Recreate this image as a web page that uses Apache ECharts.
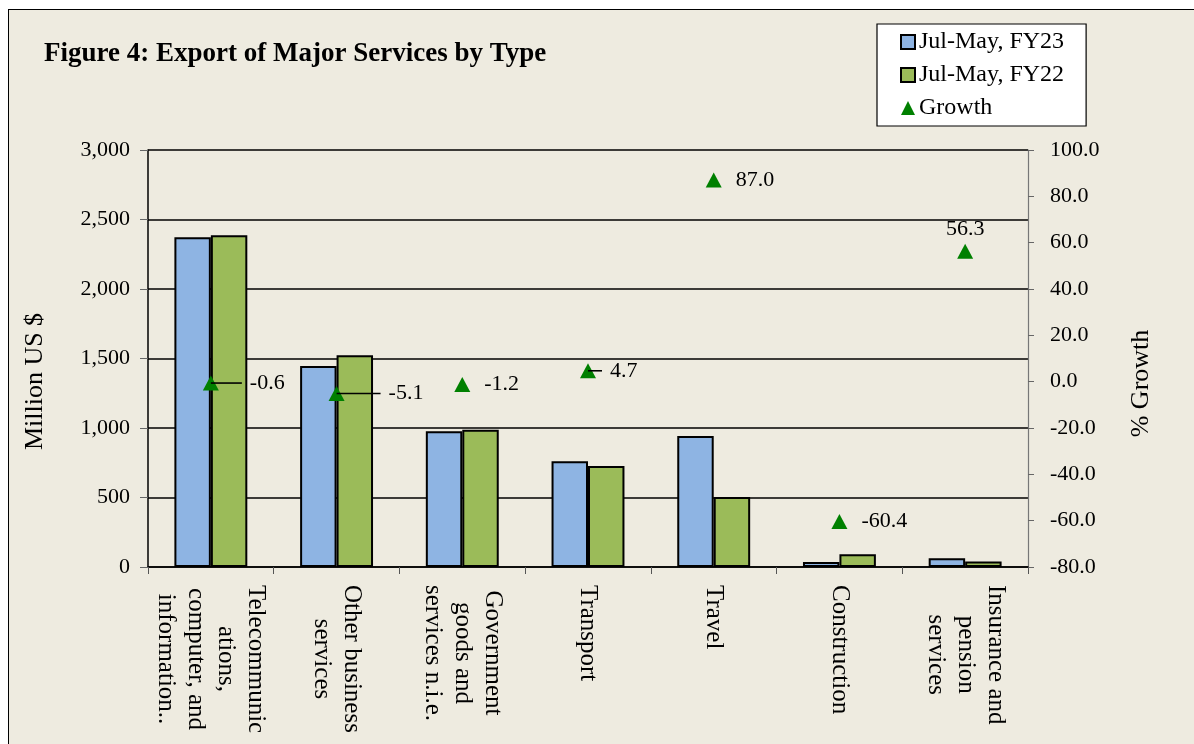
<!DOCTYPE html>
<html>
<head>
<meta charset="utf-8">
<script src="https://cdn.jsdelivr.net/npm/echarts@6/dist/echarts.min.js"></script>
<style>
  html, body { margin: 0; padding: 0; background: #fff; }
  #frame {
    position: absolute; left: 8px; top: 9px; width: 1200px; height: 760px;
    background: #EEEBE0; border-top: 1.5px solid #000; border-left: 1.5px solid #000;
  }
  #chart { position: absolute; left: 0; top: 0; width: 1194px; height: 744px; }
</style>
</head>
<body>
<div id="frame"></div>
<div id="chart"></div>
<script>
// Data
const categories = [
    'Telecommunic\nations,\ncomputer, and\ninformation..',
    'Other business\nservices',
    'Government\ngoods and\nservices n.i.e.',
    'Transport',
    'Travel',
    'Construction',
    'Insurance and\npension\nservices'
];
const fy23 = [2372, 1446, 976, 760, 942, 36, 63];
const fy22 = [2386, 1523, 988, 726, 504, 91, 40];
const growth = [-0.6, -5.1, -1.2, 4.7, 87.0, -60.4, 56.3];

const serif = '"Liberation Serif", "Times New Roman", serif';

const chart = echarts.init(document.getElementById('chart'));

// leader line lengths (px) for the labels that were dragged away from their marker
const leaderLen = { 0: 31, 1: 44, 3: 14 };

function growthLabel(v, i) {
    if (i === 6) return { position: 'top', distance: 4 };
    if (leaderLen[i]) {
        return {
            position: 'right',
            distance: -8,
            formatter: '{ln|}{t|' + v.toFixed(1) + '}',
            rich: {
                ln: { width: leaderLen[i], height: 1.6, backgroundColor: '#000', verticalAlign: 'middle' },
                t: { fontFamily: serif, fontSize: 22, color: '#000', padding: [0, 0, 0, 8], verticalAlign: 'middle' }
            }
        };
    }
    return {};
}

const option = {
    backgroundColor: 'transparent',
    animation: false,
    title: {
        text: 'Figure 4: Export of Major Services by Type',
        left: 39,
        top: 36,
        textStyle: { fontFamily: serif, fontSize: 27, fontWeight: 'bold', color: '#000' }
    },
    legend: {
        orient: 'vertical',
        left: 877,
        top: 24,
        padding: [6, 22, 6, 23],
        itemGap: 9,
        itemWidth: 14,
        itemHeight: 14,
        backgroundColor: '#fff',
        borderColor: '#000',
        borderWidth: 1.2,
        borderRadius: 0,
        textStyle: { fontFamily: serif, fontSize: 24, color: '#000', padding: [0, 0, 0, -1] },
        data: [
            { name: 'Jul-May, FY23', icon: 'rect' },
            { name: 'Jul-May, FY22', icon: 'rect' },
            { name: 'Growth', icon: 'triangle', itemStyle: { borderWidth: 0, opacity: 1 } }
        ]
    },
    grid: { left: 148, right: 166, top: 150, bottom: 177 },
    xAxis: {
        type: 'category',
        data: categories,
        axisLine: { lineStyle: { color: '#000', width: 1.5 } },
        axisTick: { show: true, length: 7, lineStyle: { color: '#555' } },
        axisLabel: {
            interval: 0,
            rotate: -90,
            margin: 18,
            fontFamily: serif,
            fontSize: 25,
            color: '#000',
            lineHeight: 30,
            formatter: (v) => v.split('\n').map(l => '{c|' + l + '}').join('\n'),
            rich: { c: { align: 'center', fontFamily: serif, fontSize: 25, color: '#000', lineHeight: 30 } }
        }
    },
    yAxis: [
        {
            type: 'value',
            min: 0,
            max: 3000,
            interval: 500,
            name: 'Million US $',
            nameLocation: 'middle',
            nameGap: 100,
            nameRotate: 90,
            nameTextStyle: { fontFamily: serif, fontSize: 26, color: '#000', padding: [0, 46, 0, 0] },
            axisLine: { show: true, lineStyle: { color: '#000', width: 1.5 } },
            axisTick: { show: true, length: 8, lineStyle: { color: '#666' } },
            axisLabel: {
                margin: 18,
                fontFamily: serif,
                fontSize: 22,
                color: '#000',
                formatter: (v) => v.toLocaleString('en-US')
            },
            splitLine: { lineStyle: { color: '#000', width: 1.5 } }
        },
        {
            type: 'value',
            min: -80,
            max: 100,
            interval: 20,
            name: '% Growth',
            nameLocation: 'middle',
            nameGap: 100,
            nameRotate: 90,
            nameTextStyle: { fontFamily: serif, fontSize: 26, color: '#000', padding: [0, 50, 0, 0] },
            axisLine: { show: true, lineStyle: { color: '#777', width: 1.2 } },
            axisTick: { show: true, length: 6, lineStyle: { color: '#666' } },
            axisLabel: {
                margin: 22,
                fontFamily: serif,
                fontSize: 22,
                color: '#000',
                formatter: (v) => v.toFixed(1)
            },
            splitLine: { show: false }
        }
    ],
    series: [
        {
            name: 'Jul-May, FY23',
            type: 'bar',
            data: fy23,
            barGap: '0%',
            barCategoryGap: '42%',
            itemStyle: { color: '#8EB4E3', borderColor: '#000', borderWidth: 2 }
        },
        {
            name: 'Jul-May, FY22',
            type: 'bar',
            data: fy22,
            itemStyle: { color: '#9BBB59', borderColor: '#000', borderWidth: 2 }
        },
        {
            name: 'Growth',
            type: 'scatter',
            yAxisIndex: 1,
            symbol: 'triangle',
            symbolSize: [16, 15],
            itemStyle: { color: '#008000', opacity: 1 },
            z: 5,
            data: growth.map((v, i) => ({ value: v, label: growthLabel(v, i) })),
            label: {
                show: true,
                position: 'right',
                distance: 14,
                fontFamily: serif,
                fontSize: 22,
                color: '#000',
                formatter: (p) => p.value.toFixed(1)
            }
        }
    ]
};

chart.setOption(option);
</script>
</body>
</html>
